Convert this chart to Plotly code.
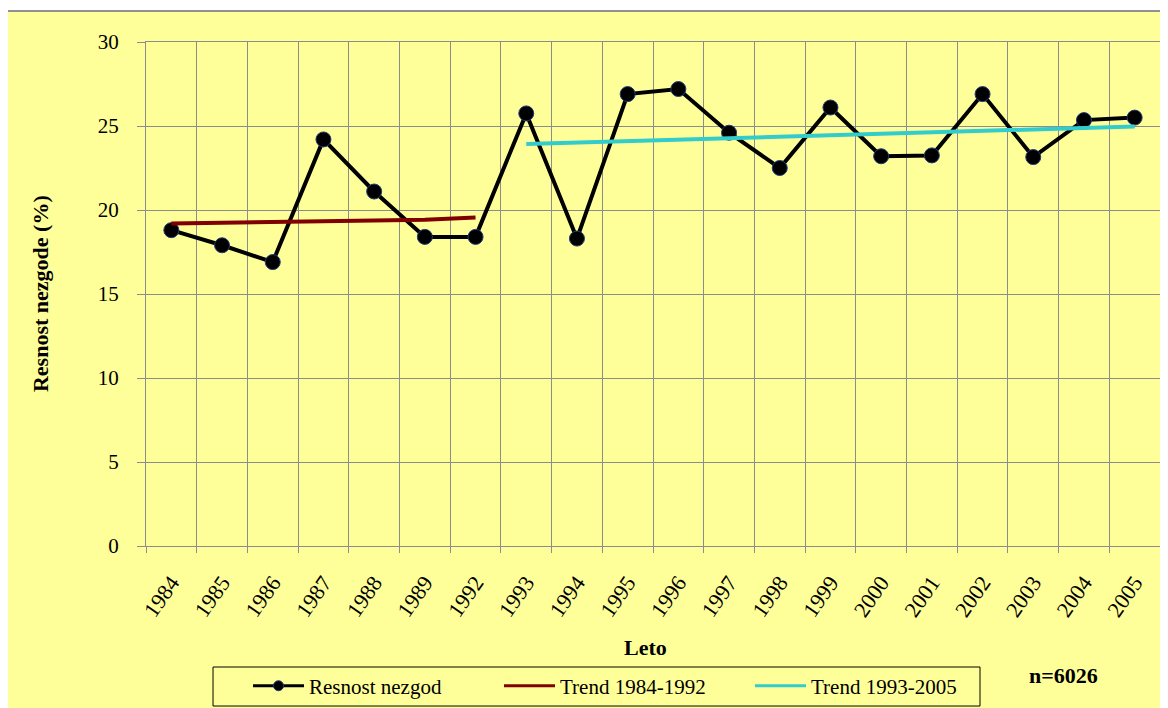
import plotly.graph_objects as go

years = ["1984", "1985", "1986", "1987", "1988", "1989", "1992", "1993", "1994", "1995",
         "1996", "1997", "1998", "1999", "2000", "2001", "2002", "2003", "2004", "2005"]
resnost = [18.8, 17.9, 16.9, 24.2, 21.1, 18.4, 18.4, 25.75, 18.3, 26.9,
           27.2, 24.6, 22.5, 26.1, 23.2, 23.25, 26.9, 23.15, 25.35, 25.5]

trend1_years = years[:7]
trend1 = [19.19, 19.24, 19.28, 19.31, 19.35, 19.42, 19.56]
trend2_years = years[7:]
trend2 = [23.93, 24.02, 24.11, 24.2, 24.28, 24.37, 24.46, 24.54, 24.63, 24.72, 24.8, 24.89, 24.97]

yticks = [0, 5, 10, 15, 20, 25, 30]

FONT = "Liberation Serif, Times New Roman, serif"
YEL = "#FFFF99"
GRID = "#8c8c8c"

fig = go.Figure()
fig.add_trace(go.Scatter(
    x=years, y=resnost, mode="lines+markers", name="Resnost nezgod",
    line=dict(color="black", width=4), showlegend=False,
    marker=dict(size=15, color="black", line=dict(color="#1f3b7a", width=1)),
))
fig.add_trace(go.Scatter(
    x=trend1_years, y=trend1, mode="lines", name="Trend 1984-1992",
    line=dict(color="#800000", width=4), showlegend=False,
))
fig.add_trace(go.Scatter(
    x=trend2_years, y=trend2, mode="lines", name="Trend 1993-2005",
    line=dict(color="#33CCCC", width=4), showlegend=False,
))
# legend entries (no data of their own)
fig.add_trace(go.Scatter(
    x=[None], y=[None], mode="lines+markers", name="Resnost nezgod",
    line=dict(color="black", width=3),
    marker=dict(size=10, color="black", line=dict(color="#1f3b7a", width=1)),
))
fig.add_trace(go.Scatter(
    x=[None], y=[None], mode="lines", name="Trend 1984-1992",
    line=dict(color="#800000", width=3),
))
fig.add_trace(go.Scatter(
    x=[None], y=[None], mode="lines", name="Trend 1993-2005",
    line=dict(color="#33CCCC", width=3),
))

fig.update_layout(
    width=1160, height=700,
    margin=dict(l=138, r=8, t=34, b=162, autoexpand=False),
    paper_bgcolor="white",
    plot_bgcolor=YEL,
    font=dict(family=FONT, color="black"),
    showlegend=True,
    legend=dict(
        orientation="h", x=0.1006, y=-0.278, xanchor="left", yanchor="middle",
        bgcolor="rgba(0,0,0,0)", borderwidth=0,
        font=dict(family=FONT, size=21),
        itemwidth=51,
        entrywidth=185, entrywidthmode="pixels",
    ),
    shapes=[
        dict(type="rect", xref="paper", yref="paper",
             x0=-0.1371, x1=1.02, y0=-0.35, y1=1.0615,
             fillcolor=YEL, line=dict(color="#909090", width=2), layer="below"),
        dict(type="rect", xref="paper", yref="paper",
             x0=0.0661, x1=0.8225, y0=-0.3175, y1=-0.2401,
             fillcolor=YEL, line=dict(color="black", width=1), layer="below"),
    ],
    annotations=[
        dict(text="<b>Leto</b>", xref="paper", yref="paper", x=0.493, y=-0.202,
             xanchor="center", yanchor="middle",
             showarrow=False, font=dict(size=22, family=FONT)),
        dict(text="<b>n=6026</b>", xref="paper", yref="paper", x=0.905, y=-0.256,
             xanchor="center", yanchor="middle",
             showarrow=False, font=dict(size=22, family=FONT)),
        dict(text="<b>Resnost nezgode (%)</b>", xref="paper", yref="paper", x=-0.1045, y=0.5,
             xanchor="center", yanchor="middle",
             showarrow=False, textangle=-90, font=dict(size=22, family=FONT)),
    ],
)

fig.update_xaxes(
    type="category", categoryorder="array", categoryarray=years,
    tickson="boundaries", showgrid=True, gridcolor=GRID, gridwidth=1,
    ticks="outside", ticklen=6, tickcolor=GRID,
    tickangle=-55, tickfont=dict(size=22, family=FONT),
    ticklabelstandoff=14,
    showline=True, linecolor=GRID, linewidth=1, mirror=True,
    range=[-0.5, 19.5], zeroline=False,
)
fig.update_yaxes(
    range=[0, 30], tickvals=yticks, ticktext=[str(v) for v in yticks],
    showgrid=True, gridcolor=GRID, gridwidth=1,
    ticks="outside", ticklen=8, tickcolor=GRID,
    tickfont=dict(size=21, family=FONT),
    ticklabelstandoff=14,
    showline=True, linecolor=GRID, linewidth=1, mirror=True,
    zeroline=False,
)

fig.write_html("out.html")
